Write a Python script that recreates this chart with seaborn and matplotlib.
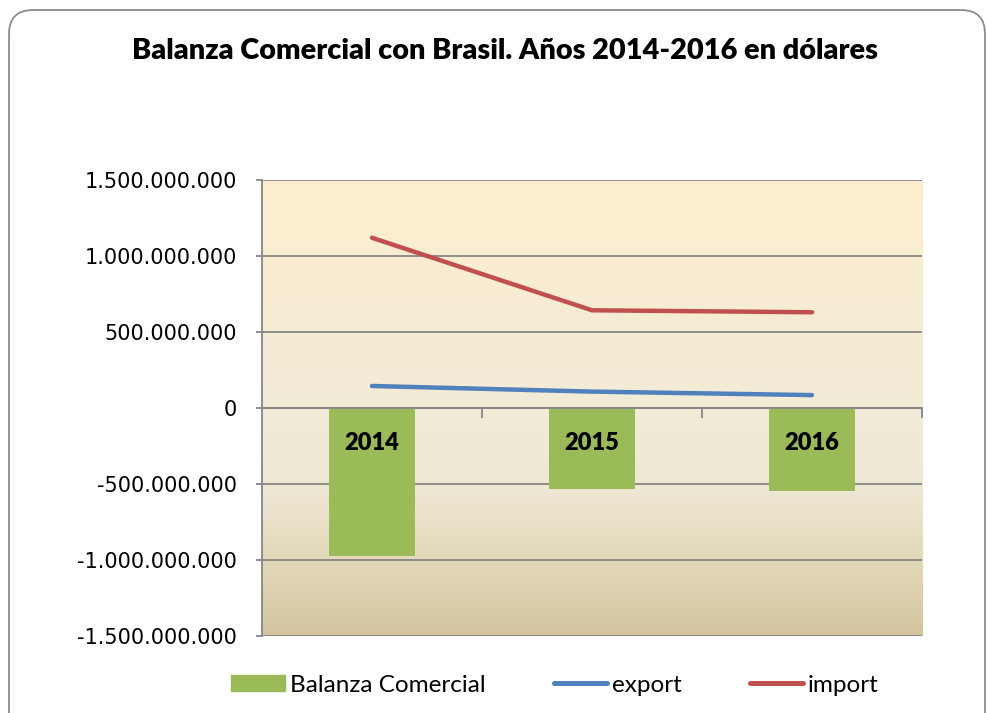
import numpy as np
import pandas as pd
import matplotlib
matplotlib.use("Agg")
import matplotlib.pyplot as plt
import seaborn as sns
from matplotlib.patches import FancyBboxPatch, Patch
from matplotlib.lines import Line2D
from matplotlib.colors import LinearSegmentedColormap
from matplotlib.ticker import FuncFormatter, MultipleLocator, FixedLocator

years = ["2014", "2015", "2016"]
export_vals = [145_000_000, 108_000_000, 85_000_000]
import_vals = [1_120_000_000, 643_000_000, 630_000_000]
balanza_vals = [-975_000_000, -535_000_000, -545_000_000]

df = pd.DataFrame({"year": years, "export": export_vals,
                   "import": import_vals, "balanza": balanza_vals})

sns.set_theme(style="white")
plt.rcParams["font.family"] = ["DejaVu Sans"]

fig = plt.figure(figsize=(9.86, 7.13), dpi=100)
ax = fig.add_axes([0.2657, 0.108, 0.6694, 0.6395])

# degradado del fondo del area de trazado
bg = LinearSegmentedColormap.from_list(
    "bg", [(0.0, "#d4c59f"), (0.17, "#e3d9ba"), (0.33, "#efe8d5"),
           (0.5, "#f2ebd7"), (1.0, "#fdeecf")])
grad = np.linspace(0, 1, 256).reshape(-1, 1)
ax.imshow(grad, cmap=bg, aspect="auto", extent=[0, 1, 0, 1], origin="lower",
          transform=ax.transAxes, zorder=0)

sns.barplot(data=df, x="year", y="balanza", color="#9bbb59", width=0.39,
            saturation=1, linewidth=0, ax=ax, zorder=2)
sns.lineplot(data=df, x="year", y="export", color="#4f81bd", lw=3.2, ax=ax,
             zorder=3, solid_capstyle="round")
sns.lineplot(data=df, x="year", y="import", color="#c0504d", lw=3.2, ax=ax,
             zorder=3, solid_capstyle="round")

ax.set_xlim(-0.5, 2.5)
ax.set_ylim(-1_500_000_000, 1_500_000_000)
ax.yaxis.set_major_locator(MultipleLocator(500_000_000))
ax.yaxis.set_major_formatter(FuncFormatter(lambda v, p: f"{v:,.0f}".replace(",", ".")))
ax.set_xlabel("")
ax.set_ylabel("")

ax.grid(axis="y", color="#868686", lw=1.3)
ax.grid(axis="x", visible=False)
ax.set_axisbelow(True)
ax.yaxis.set_zorder(1)
ax.xaxis.set_zorder(4)

for s in ["top", "right"]:
    ax.spines[s].set_visible(False)
ax.spines["left"].set_color("#868686")
ax.spines["left"].set_linewidth(1.3)
ax.spines["bottom"].set_position(("data", 0))
ax.spines["bottom"].set_color("#868686")
ax.spines["bottom"].set_linewidth(1.3)
ax.spines["bottom"].set_zorder(2.6)

ax.tick_params(axis="y", which="major", left=True, length=4, width=1.3,
               color="#868686", labelsize=15, labelcolor="black", pad=14)
ax.tick_params(axis="x", which="major", bottom=True, length=0, pad=17,
               labelcolor="black")
ax.xaxis.set_minor_locator(FixedLocator([0.5, 1.5, 2.5]))
ax.tick_params(axis="x", which="minor", bottom=True, length=7, width=1.3,
               color="#868686", direction="out")
for lab in ax.get_xticklabels():
    lab.set_fontfamily("Lato")
    lab.set_fontweight("heavy")
    lab.set_fontsize(17)

fig.text(0.512, 0.929, "Balanza Comercial con Brasil. Años 2014-2016 en dólares",
         ha="center", va="center", fontsize=20.8, fontweight="heavy", family="Lato",
         color="black")

handles = [Patch(color="#9bbb59"),
           Line2D([0], [0], color="#4f81bd", lw=3.6, solid_capstyle="round"),
           Line2D([0], [0], color="#c0504d", lw=3.6, solid_capstyle="round")]
fig.legend(handles, ["Balanza Comercial", "export", "import"], loc="center",
           bbox_to_anchor=(0.563, 0.039), ncol=3, frameon=False, handlelength=2.2,
           handleheight=0.62, handletextpad=0.2, columnspacing=2.8,
           prop={"family": "Lato", "size": 17.5}, labelcolor="black")

# marco redondeado (coordenadas en pixeles)
frame = FancyBboxPatch((9, -30), 976, 733, boxstyle="round,pad=0,rounding_size=24",
                       transform=None, fill=False, ec="#8c8c8c", lw=1.3)
fig.patches.append(frame)

fig.savefig("out.png", dpi=100)
